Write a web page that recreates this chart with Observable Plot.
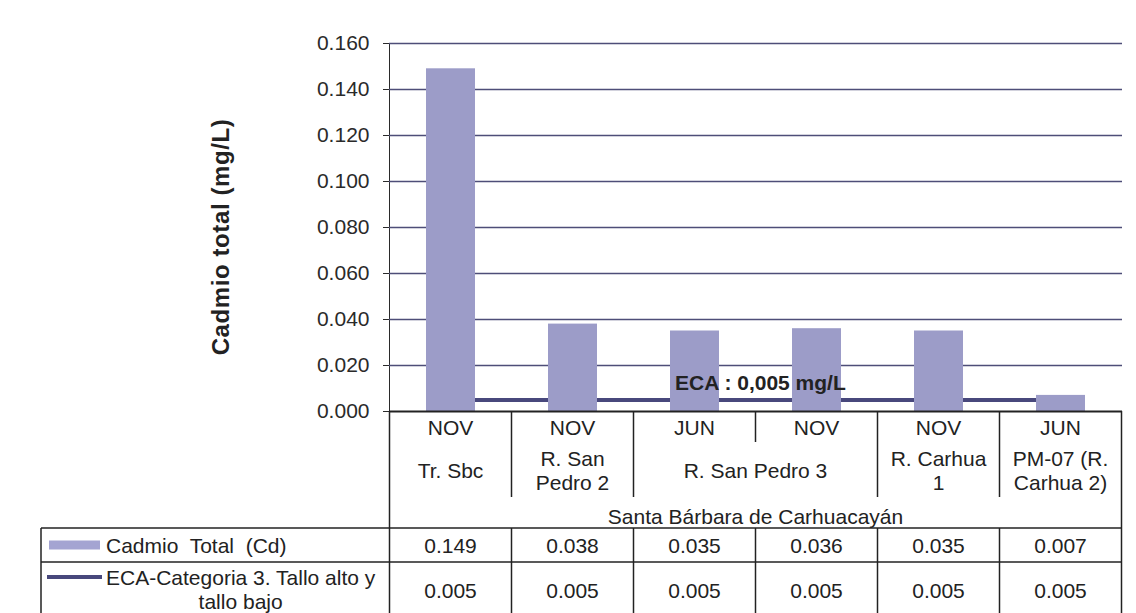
<!DOCTYPE html>
<html>
<head>
<meta charset="utf-8">
<script src="https://cdn.jsdelivr.net/npm/d3@7"></script>
<script src="https://cdn.jsdelivr.net/npm/@observablehq/plot@0.6"></script>
<style>
  html, body { margin: 0; padding: 0; background: #fff; }
  #chart svg { display: block; }
</style>
</head>
<body>
<div id="chart"></div>
<script>
// ---- data ----
const months = ["NOV", "NOV", "JUN", "NOV", "NOV", "JUN"];
const stationLabels = ["Tr. Sbc", "R. San\nPedro 2", "R. San Pedro 3", "R. Carhua\n1", "PM-07 (R.\nCarhua 2)"];
const stationSpans = [1, 1, 2, 1, 1];
const groupLabel = "Santa Bárbara de Carhuacayán";
const cadmio = [0.149, 0.038, 0.035, 0.036, 0.035, 0.007];
const eca = [0.005, 0.005, 0.005, 0.005, 0.005, 0.005];
const seriesNames = ["Cadmio  Total  (Cd)", "ECA-Categoria 3. Tallo alto y\ntallo bajo"];
const yTicks = [0, 0.02, 0.04, 0.06, 0.08, 0.10, 0.12, 0.14, 0.16];
const yTitle = "Cadmio total (mg/L)";
const ecaLabel = "ECA : 0,005 mg/L";

const keys = months.map((m, i) => `${i}`);
const rows = keys.map((k, i) => ({key: k, month: months[i], cd: cadmio[i], eca: eca[i]}));

const FONT = "'Liberation Sans', Arial, sans-serif";
const barFill = "#9c9cc8";
const ecaStroke = "#48487c";
const fmt = d3.format(".3f");

const plot = Plot.plot({
  width: 1136,
  height: 613,
  marginLeft: 389,
  marginRight: 14,
  marginTop: 43,
  marginBottom: 202,
  style: {fontFamily: FONT, fontSize: "21px", color: "#2a2a2a", background: "#fff"},
  x: {domain: keys, paddingInner: 0.6, paddingOuter: 0.3, axis: null},
  y: {domain: [0, 0.16], ticks: yTicks, tickFormat: fmt, tickSize: 6, tickPadding: 14, label: null, line: true},
  marks: [
    Plot.ruleY(yTicks.filter(d => d > 0), {stroke: "#4e4e78", strokeWidth: 1.4}),
    Plot.lineY(rows, {x: "key", y: "eca", stroke: ecaStroke, strokeWidth: 4}),
    Plot.barY(rows, {x: "key", y: "cd", fill: barFill}),
    Plot.ruleY([0], {stroke: "#222", strokeWidth: 2}),
    Plot.text([ecaLabel], {x: () => keys[2], y: () => eca[2], text: d => d, dx: -20, dy: -17,
      textAnchor: "start", fontWeight: "bold", fontSize: 21, fill: "#222"})
  ]
});

document.getElementById("chart").appendChild(plot);

// ---- data table under the chart, aligned with Plot's x scale ----
const svg = d3.select(plot.tagName.toLowerCase() === "svg" ? plot : plot.querySelector("svg"));
const sx = plot.scale("x");
const step = sx.step;
const bw = sx.bandwidth;
const colLeft = k => sx.apply(k) - (step - bw) / 2;
const left = colLeft(keys[0]);
const right = colLeft(keys[keys.length - 1]) + step;
const yS = plot.scale("y");
const y0 = yS.apply(0);

const tableLeft = 41;
const rowGroupBottom = y0 + 117;   // line under the group row
const rowCdBottom = rowGroupBottom + 34;
const bottom = 613;

const g = svg.append("g").attr("font-family", FONT).attr("font-size", 21).attr("fill", "#222");
const line = (x1, y1, x2, y2, w = 1.5) =>
  g.append("line").attr("x1", x1).attr("y1", y1).attr("x2", x2).attr("y2", y2)
   .attr("stroke", "#222").attr("stroke-width", w);

// Y title
svg.append("text")
  .attr("transform", `translate(220,${(yS.apply(0.16) + y0) / 2 + 10}) rotate(-90)`)
  .attr("text-anchor", "middle").attr("dominant-baseline", "central")
  .attr("font-family", FONT).attr("font-size", 24).attr("font-weight", "bold")
  .attr("fill", "#222").attr("letter-spacing", 0.6).text(yTitle);

// outer lines
line(left, y0, left, bottom);
line(right, y0, right, bottom);
line(tableLeft, rowGroupBottom, right, rowGroupBottom);
line(tableLeft, rowCdBottom, right, rowCdBottom);
line(tableLeft, rowGroupBottom, tableLeft, bottom);

// header dividers
let acc = 0;
const stationStarts = stationSpans.map(s => { const a = acc; acc += s; return a; });
keys.forEach((k, i) => {
  if (i === 0) return;
  const x = colLeft(k);
  const isStationBoundary = stationStarts.includes(i);
  line(x, y0, x, isStationBoundary ? y0 + 86 : y0 + 31);
  line(x, rowGroupBottom, x, bottom);
});

// months
keys.forEach((k, i) => {
  g.append("text").attr("x", sx.apply(k) + bw / 2).attr("y", y0 + 16)
    .attr("text-anchor", "middle").attr("dominant-baseline", "central").text(months[i]);
});

// stations
stationLabels.forEach((lab, j) => {
  const i0 = stationStarts[j];
  const x = colLeft(keys[i0]) + step * stationSpans[j] / 2;
  const parts = lab.split("\n");
  const cy = y0 + 59;
  parts.forEach((p, li) => {
    g.append("text").attr("x", x).attr("y", cy + (li - (parts.length - 1) / 2) * 24)
      .attr("text-anchor", "middle").attr("dominant-baseline", "central").text(p);
  });
});

// group label
g.append("text").attr("x", (left + right) / 2).attr("y", y0 + 105)
  .attr("text-anchor", "middle").attr("dominant-baseline", "central").text(groupLabel);

// values
const rowCenters = [rowGroupBottom + 17, rowCdBottom + 28];
[cadmio, eca].forEach((vals, r) => {
  keys.forEach((k, i) => {
    g.append("text").attr("x", sx.apply(k) + bw / 2).attr("y", rowCenters[r])
      .attr("text-anchor", "middle").attr("dominant-baseline", "central").text(fmt(vals[i]));
  });
});

// legend keys + series names
g.append("rect").attr("x", 49).attr("y", rowCenters[0] - 4.5).attr("width", 51).attr("height", 9).attr("fill", "#a4a4d2");
g.append("text").attr("x", 106).attr("y", rowCenters[0]).attr("text-anchor", "start")
  .attr("dominant-baseline", "central").text(seriesNames[0]);
g.append("line").attr("x1", 47).attr("x2", 102).attr("y1", rowCenters[1] - 13).attr("y2", rowCenters[1] - 13)
  .attr("stroke", ecaStroke).attr("stroke-width", 4);
const ecaParts = seriesNames[1].split("\n");
const t1 = g.append("text").attr("x", 106).attr("y", rowCenters[1] - 13).attr("text-anchor", "start")
  .attr("dominant-baseline", "central").text(ecaParts[0]);
const w1 = t1.node().getComputedTextLength();
g.append("text").attr("x", 106 + w1 / 2).attr("y", rowCenters[1] + 11).attr("text-anchor", "middle")
  .attr("dominant-baseline", "central").text(ecaParts[1]);
</script>
</body>
</html>
